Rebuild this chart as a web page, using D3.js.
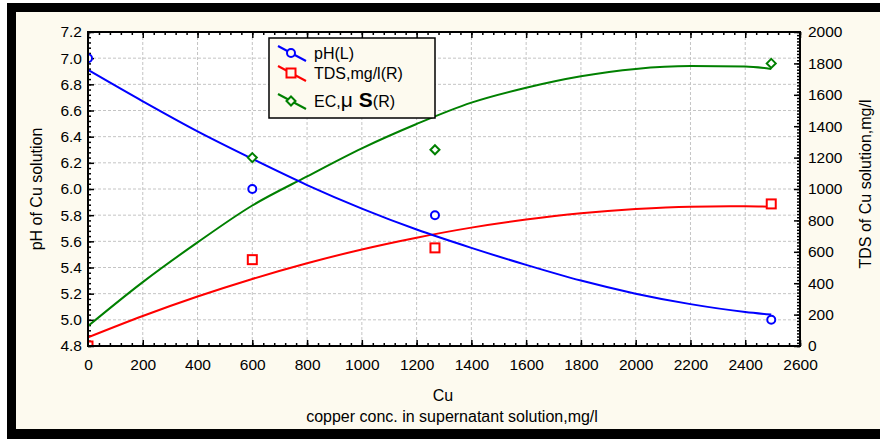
<!DOCTYPE html>
<html>
<head>
<meta charset="utf-8">
<script src="https://cdn.jsdelivr.net/npm/d3@7"></script>
<style>
  body { margin: 0; background: #fff; }
  svg { display: block; font-family: "Liberation Sans", Arial, sans-serif; }
</style>
</head>
<body>
<div id="chart"></div>
<script>
// measured points
const cuPoints = [0, 600, 1267, 2495];
const phPoints = [7.0, 6.0, 5.8, 5.0];
const tdsPoints = [0, 550, 625, 905];
const ecPoints = [0, 1200, 1250, 1800];

// fitted curves
const cuFit = [0, 200, 400, 600, 800, 1000, 1200, 1400, 1600, 1800, 2000, 2200, 2400, 2495];
const phFit = [6.91, 6.67, 6.44, 6.23, 6.03, 5.85, 5.69, 5.55, 5.42, 5.30, 5.20, 5.12, 5.06, 5.04];
const tdsFit = [55, 191, 315, 427, 527, 615, 690, 754, 805, 845, 872, 887, 890, 887];
const ecFit = [127, 407, 660, 895, 1080, 1259, 1414, 1550, 1645, 1718, 1765, 1783, 1780, 1765];

// tick labels
const xTicks = [0, 200, 400, 600, 800, 1000, 1200, 1400, 1600, 1800, 2000, 2200, 2400, 2600];
const phTicks = [4.8, 5.0, 5.2, 5.4, 5.6, 5.8, 6.0, 6.2, 6.4, 6.6, 6.8, 7.0, 7.2];
const tdsTicks = [0, 200, 400, 600, 800, 1000, 1200, 1400, 1600, 1800, 2000];

const legendItems = [
  { name: "pH(L)", color: "#0000ff", shape: "circle" },
  { name: "TDS,mg/l(R)", color: "#ff0000", shape: "square" },
  { name: "EC,μS(R)", color: "#008000", shape: "diamond" }
];

const W = 880, H = 439;
const cream = "#fdfaef";
const margin = { top: 32, right: 80, bottom: 93, left: 88 };
const width = W - margin.left - margin.right,
  height = H - margin.top - margin.bottom;

const svg = d3.select("#chart").append("svg").attr("width", W).attr("height", H);

// frame
svg.append("rect").attr("width", W).attr("height", H).attr("fill", "#fff");
svg.append("rect").attr("x", 7).attr("y", 3).attr("width", W - 7).attr("height", H - 3).attr("fill", "#000");
svg.append("rect").attr("x", 16).attr("y", 12).attr("width", W - 16).attr("height", 417).attr("fill", cream);

const g = svg.append("g").attr("transform", "translate(" + margin.left + "," + margin.top + ")");

g.append("rect").attr("width", width).attr("height", height).attr("fill", "#fff");

const x = d3.scaleLinear().domain([0, 2600]).range([0, width]);
const yL = d3.scaleLinear().domain([4.8, 7.2]).range([height, 0]);
const yR = d3.scaleLinear().domain([0, 2000]).range([height, 0]);

// grid
g.selectAll(".vgrid").data(xTicks.slice(1, -1)).enter().append("line")
  .attr("x1", d => x(d)).attr("x2", d => x(d))
  .attr("y1", 0).attr("y2", height)
  .attr("stroke", "#c4c4c4").attr("stroke-dasharray", "3,2");
g.selectAll(".hgrid").data(phTicks.slice(1, -1)).enter().append("line")
  .attr("x1", 0).attr("x2", width)
  .attr("y1", d => yL(d)).attr("y2", d => yL(d))
  .attr("stroke", "#c4c4c4").attr("stroke-dasharray", "3,2");

// axes
function styleAxis(sel) {
  sel.select(".domain").remove();
  sel.selectAll("line").attr("stroke", "#000").attr("stroke-width", 1.5);
  sel.selectAll("text").attr("fill", "#000").style("font-size", "15.5px")
    .style("font-family", '"Liberation Sans", Arial, sans-serif');
}

const xMinor = d3.range(0, 2601, 40);
const phMinor = d3.range(0, 61).map(i => 4.8 + i * 0.04);
const tdsMinor = d3.range(0, 2001, 20);

g.append("g").attr("transform", "translate(0," + height + ")")
  .call(d3.axisBottom(x).tickValues(xMinor).tickSize(-3).tickFormat("")).call(styleAxis);
g.append("g").attr("transform", "translate(0," + height + ")")
  .call(d3.axisBottom(x).tickValues(xTicks).tickSize(-6).tickPadding(13).tickFormat(d3.format("d")))
  .call(styleAxis);
g.append("g")
  .call(d3.axisTop(x).tickValues(xMinor).tickSize(-3).tickFormat("")).call(styleAxis);
g.append("g")
  .call(d3.axisTop(x).tickValues(xTicks).tickSize(-6).tickFormat("")).call(styleAxis);

g.append("g")
  .call(d3.axisLeft(yL).tickValues(phMinor).tickSize(-3).tickFormat("")).call(styleAxis);
g.append("g")
  .call(d3.axisLeft(yL).tickValues(phTicks).tickSize(-6).tickPadding(6).tickFormat(d3.format(".1f")))
  .call(styleAxis);

g.append("g").attr("transform", "translate(" + width + ",0)")
  .call(d3.axisRight(yR).tickValues(tdsMinor).tickSize(-3).tickFormat("")).call(styleAxis);
g.append("g").attr("transform", "translate(" + width + ",0)")
  .call(d3.axisRight(yR).tickValues(tdsTicks).tickSize(-6).tickPadding(8).tickFormat(d3.format("d")))
  .call(styleAxis);

// clip
g.append("clipPath").attr("id", "plotclip").append("rect")
  .attr("width", width).attr("height", height);
const plot = g.append("g").attr("clip-path", "url(#plotclip)");

const phLine = d3.line().x((d, i) => x(cuFit[i])).y(d => yL(d)).curve(d3.curveMonotoneX);
const rLine = d3.line().x((d, i) => x(cuFit[i])).y(d => yR(d)).curve(d3.curveMonotoneX);

plot.append("path").datum(ecFit).attr("d", rLine)
  .attr("fill", "none").attr("stroke", "#008000").attr("stroke-width", 2);
plot.append("path").datum(tdsFit).attr("d", rLine)
  .attr("fill", "none").attr("stroke", "#ff0000").attr("stroke-width", 2);
plot.append("path").datum(phFit).attr("d", phLine)
  .attr("fill", "none").attr("stroke", "#0000ff").attr("stroke-width", 2);

function marker(sel, shape, color) {
  if (shape === "circle") {
    sel.append("circle").attr("r", 4);
  } else if (shape === "square") {
    sel.append("rect").attr("x", -4.5).attr("y", -4.5).attr("width", 9).attr("height", 9);
  } else {
    sel.append("path").attr("d", "M0,-4.5L4.5,0L0,4.5L-4.5,0Z");
  }
  sel.selectAll("*").attr("fill", "#fff").attr("stroke", color).attr("stroke-width", 2);
}

plot.selectAll(".ecpt").data(ecPoints).enter().append("g")
  .attr("transform", (d, i) => "translate(" + x(cuPoints[i]) + "," + yR(d) + ")")
  .each(function () { marker(d3.select(this), "diamond", "#008000"); });
plot.selectAll(".tdspt").data(tdsPoints).enter().append("g")
  .attr("transform", (d, i) => "translate(" + x(cuPoints[i]) + "," + yR(d) + ")")
  .each(function () { marker(d3.select(this), "square", "#ff0000"); });
plot.selectAll(".phpt").data(phPoints).enter().append("g")
  .attr("transform", (d, i) => "translate(" + x(cuPoints[i]) + "," + yL(d) + ")")
  .each(function () { marker(d3.select(this), "circle", "#0000ff"); });

// plot frame
g.append("rect").attr("width", width).attr("height", height)
  .attr("fill", "none").attr("stroke", "#000").attr("stroke-width", 2);

// axis titles
svg.append("text").attr("transform", "translate(42,189) rotate(-90)")
  .attr("text-anchor", "middle").style("font-size", "16px").text("pH of Cu solution");
svg.append("text").attr("transform", "translate(871,184) rotate(-90)")
  .attr("text-anchor", "middle").style("font-size", "16px").text("TDS of Cu solution,mg/l");
svg.append("text").attr("x", 443).attr("y", 401)
  .attr("text-anchor", "middle").style("font-size", "16px").text("Cu");
svg.append("text").attr("x", 452).attr("y", 422)
  .attr("text-anchor", "middle").style("font-size", "16px").text("copper conc. in supernatant solution,mg/l");

// legend
const legend = svg.append("g");
legend.append("rect").attr("x", 269).attr("y", 38).attr("width", 166).attr("height", 80)
  .attr("fill", cream).attr("stroke", "#000").attr("stroke-width", 1.5);
const rowY = [53, 73, 101];
legendItems.forEach(function (item, i) {
  const row = legend.append("g").attr("transform", "translate(0," + rowY[i] + ")");
  row.append("line").attr("x1", 278).attr("y1", -7).attr("x2", 306).attr("y2", 8)
    .attr("stroke", item.color).attr("stroke-width", 2);
  const m = row.append("g").attr("transform", "translate(291,0)");
  marker(m, item.shape, item.color);
  m.selectAll("*").attr("fill", cream);
  const t = row.append("text").attr("x", 314).attr("y", 6).style("font-size", "16px");
  if (item.shape === "diamond") {
    t.append("tspan").text("EC,");
    t.append("tspan").style("font-size", "21px").text("μ");
    t.append("tspan").style("font-size", "21px").style("font-weight", "bold").attr("dx", 6).text("S");
    t.append("tspan").text("(R)");
  } else {
    t.text(item.name);
  }
});
</script>
</body>
</html>
